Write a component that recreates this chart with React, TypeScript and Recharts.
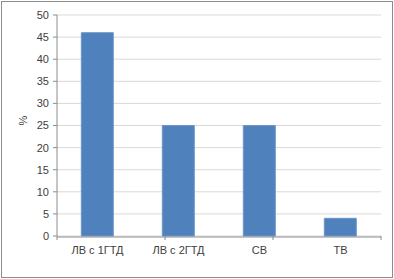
import { BarChart, Bar, XAxis, YAxis, CartesianGrid } from 'recharts'

const categories = ['ЛВ с 1ГТД', 'ЛВ с 2ГТД', 'СВ', 'ТВ']
const shares = [46, 25, 25, 4]
const yTicks = [0, 5, 10, 15, 20, 25, 30, 35, 40, 45, 50]
const boundaryTicks = [0, 1, 2, 3, 4]

const data = categories.map((name, i) => ({ name, value: shares[i] }))

const tickStyle = { fontSize: 11, fill: '#404040', fontFamily: 'Liberation Sans, Arial, sans-serif' }

export default function App() {
  return (
    <div style={{ position: 'absolute', left: 0, top: 0, width: 394, height: 279, background: '#fff' }}>
      <div style={{ position: 'absolute', left: 1, top: 1, width: 390, height: 275, border: '1px solid #8c8c8c' }} />
      <BarChart width={394} height={279} data={data}
        margin={{ top: 15, right: 13, left: 0, bottom: 0 }} barCategoryGap="30%">
        <CartesianGrid stroke="#d9d9d9" vertical={false} />
        {/* boundary ticks between categories, drawn from a numeric axis */}
        <XAxis xAxisId="bnd" type="number" domain={[0, 4]} ticks={boundaryTicks} interval={0}
          height={1} tickFormatter={() => ''} tickLine={{ stroke: '#8c8c8c' }} tickSize={4}
          axisLine={false} allowDataOverflow />
        <XAxis dataKey="name" xAxisId="cat" height={42} tick={tickStyle} tickLine={false}
          axisLine={{ stroke: '#8c8c8c' }} tickMargin={3} interval={0} />
        <YAxis width={57} domain={[0, 50]} ticks={yTicks} tick={tickStyle}
          axisLine={{ stroke: '#8c8c8c' }} tickLine={{ stroke: '#8c8c8c' }} tickSize={4} tickMargin={4}
          interval={0}
          label={{ value: '%', angle: -90, position: 'insideLeft', offset: 23, style: tickStyle }} />
        <Bar xAxisId="cat" dataKey="value" fill="#4f81bd" stroke="#6d96c9" strokeWidth={1}
          maxBarSize={32} isAnimationActive={false} />
      </BarChart>
    </div>
  )
}
